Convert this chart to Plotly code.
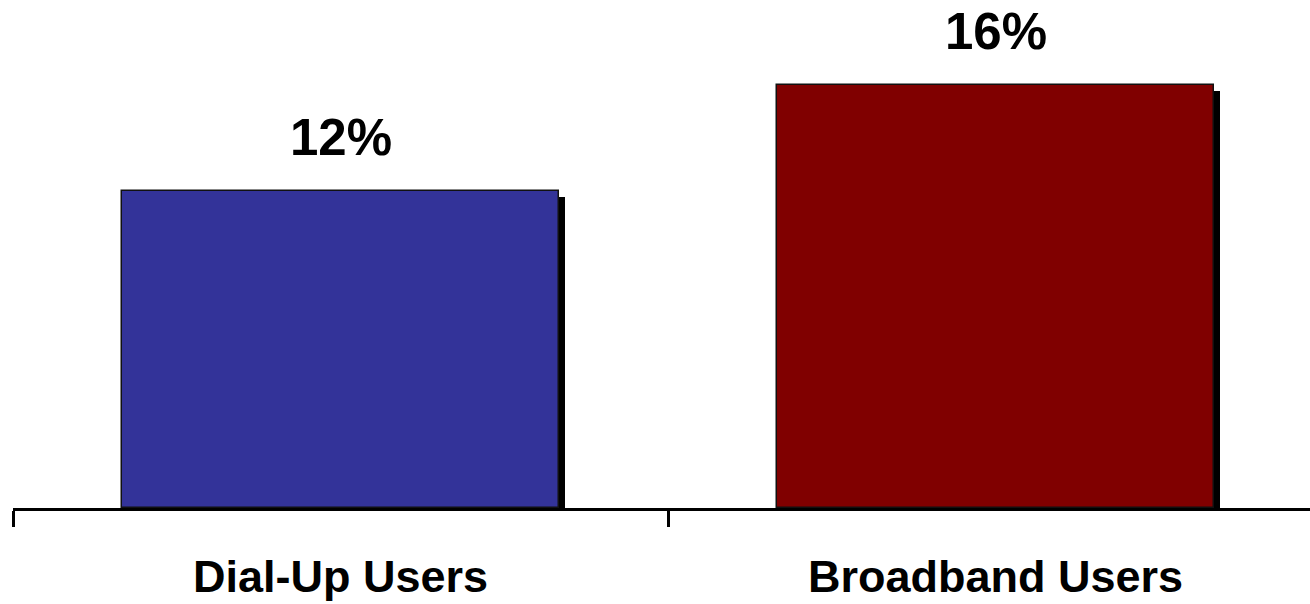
import plotly.graph_objects as go

categories = ["Dial-Up Users", "Broadband Users"]
values = [12, 16]
labels = ["12%", "16%"]
colors = ["#333399", "#800000"]

W, H = 1310, 604
ml, mb = 13, 96
px_per_cat = 655.0
px_per_unit = 26.45
bar_w = 0.668
sh_px = 6

xs = list(range(len(categories)))
plot_w = W - ml
plot_h = H - mb
x_range = [-0.5, -0.5 + plot_w / px_per_cat]
y_range = [0, plot_h / px_per_unit]
dx = sh_px / px_per_cat
dy = sh_px / px_per_unit

fig = go.Figure()
# shadow
fig.add_trace(go.Bar(
    x=xs, y=[v - dy for v in values], width=bar_w, offset=-bar_w / 2 + dx,
    marker=dict(color="black", line=dict(width=0)), hoverinfo="skip", showlegend=False,
))
# bars
fig.add_trace(go.Bar(
    x=xs, y=values, width=bar_w, offset=-bar_w / 2,
    marker=dict(color=colors, line=dict(color="#111111", width=1.5)),
    showlegend=False,
))

font_big = dict(family="Liberation Sans, Arial, sans-serif", size=51, color="black", weight="bold")
font_cat = dict(family="Liberation Sans, Arial, sans-serif", size=45, color="black", weight="bold")

for x, v, t in zip(xs, values, labels):
    fig.add_annotation(x=x, y=v, text=t, showarrow=False, xanchor="center",
                       yanchor="middle", yshift=53, font=font_big)

for x, c in zip(xs, categories):
    fig.add_annotation(x=x, y=0, xref="x", yref="paper", text=c, showarrow=False,
                       xanchor="center", yanchor="top", yshift=-41, font=font_cat)

fig.update_layout(
    width=W, height=H,
    margin=dict(l=ml, r=0, t=0, b=mb, pad=0),
    plot_bgcolor="white", paper_bgcolor="white",
    barmode="overlay", bargap=0,
    xaxis=dict(range=x_range, showgrid=False, zeroline=False, showline=True,
               linecolor="black", linewidth=3, tickmode="array", tickvals=[-0.5, 0.5],
               ticks="outside", ticklen=16, tickwidth=3, tickcolor="black",
               showticklabels=False, fixedrange=True),
    yaxis=dict(range=y_range, visible=False, fixedrange=True),
)

fig.write_html("out.html", config={"displayModeBar": False})
